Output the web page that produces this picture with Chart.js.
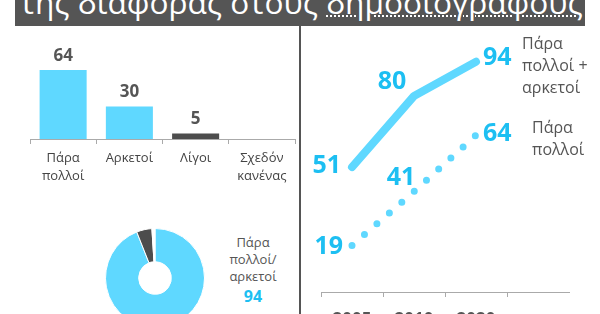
<!DOCTYPE html>
<html>
<head>
<meta charset="utf-8">
<script src="https://cdn.jsdelivr.net/npm/chart.js@4.4.1/dist/chart.umd.min.js"></script>
<style>
  html, body { margin: 0; padding: 0; background: #fff; }
  body { width: 600px; height: 314px; position: relative; overflow: hidden; font-family: 'Open Sans', sans-serif; }
  canvas { position: absolute; }
  #hdr { position: absolute; left: 15px; top: 0; width: 570px; height: 26px; background: #555; overflow: hidden; z-index: 2; }
  #hdr span.t { position: absolute; left: 5px; top: -14px; font-size: 32px; line-height: 1; color: #fff; white-space: nowrap; }
  #hdr u { text-decoration: underline dotted 2px; text-underline-offset: 1px; }
  #divider { position: absolute; left: 299px; top: 26px; width: 2px; height: 300px; background: #555; }
  .note { position: absolute; color: #555; white-space: nowrap; }
</style>
</head>
<body>
<div id="hdr"><span class="t" id="title">της διαφοράς στους <u>δημοσιογράφους</u></span></div>
<div id="divider"></div>

<canvas id="bars" width="298" height="200" style="left:0;top:0"></canvas>
<canvas id="donut" width="100" height="100" style="left:105px;top:228px"></canvas>
<canvas id="lines" width="300" height="310" style="left:300px;top:26px"></canvas>

<div class="note" style="left:213px;top:234px;width:80px;text-align:center;font-size:13px;line-height:17px">Πάρα<br>πολλοί/<br>αρκετοί<br><b style="color:#1dbff2;font-size:16px;line-height:23px">94</b></div>
<div class="note" style="left:522px;top:32px;font-size:16px;line-height:22px">Πάρα<br>πολλοί +<br>αρκετοί</div>
<div class="note" style="left:532px;top:116px;font-size:16px;line-height:22px">Πάρα<br>πολλοί</div>

<script>
const categories = ['Πάρα πολλοί', 'Αρκετοί', 'Λίγοι', 'Σχεδόν κανένας'];
const barValues = [64, 30, 5, 0];

const donutLabels = ['Πάρα πολλοί/αρκετοί', 'Λίγοι', 'Σχεδόν κανένας'];
const donutValues = [94, 5, 1];

const years = ['2005', '2010', '2020', ''];
const veryMuchOrEnough = [51, 80, 94]; // πάρα πολλοί + αρκετοί
const veryMuch = [19, 41, 64];         // πάρα πολλοί

const BLUE = '#5fd8ff';
const LABEL_BLUE = '#1dbff2';
const GREY = '#555';

// squeeze the (cut off) title so it ends where the grey band ends
const title = document.getElementById('title');
const size = 32 * 563 / title.offsetWidth;
title.style.fontSize = size + 'px';
title.style.top = (14.5 - 0.888 * size) + 'px';

Chart.defaults.font.family = "'Open Sans', sans-serif";
Chart.defaults.animation = false;

// numbers above the bars
const barLabels = {
  id: 'barLabels',
  afterDatasetsDraw(chart) {
    const ctx = chart.ctx;
    const meta = chart.getDatasetMeta(0);
    ctx.save();
    ctx.font = 'bold 17px "Open Sans"';
    ctx.fillStyle = GREY;
    ctx.textAlign = 'center';
    ctx.textBaseline = 'middle';
    meta.data.forEach((el, i) => {
      const v = chart.data.datasets[0].data[i];
      if (!v) return;
      ctx.fillText(v, el.x, el.y - 14);
    });
    ctx.restore();
  }
};

new Chart(document.getElementById('bars'), {
  type: 'bar',
  data: {
    labels: categories,
    datasets: [{
      data: barValues,
      backgroundColor: [BLUE, BLUE, '#4d4d4d', '#4d4d4d'],
      categoryPercentage: 1,
      barPercentage: 0.71
    }]
  },
  options: {
    responsive: false,
    layout: { padding: { left: 30, right: 3, top: 31, bottom: 1 } },
    plugins: { legend: { display: false }, tooltip: { enabled: false } },
    scales: {
      y: { display: false, min: 0, max: 100 },
      x: {
        afterFit: s => { s.height = 60; },
        border: { display: true, color: '#aaa' },
        grid: { drawOnChartArea: false, tickLength: 5, color: '#aaa' },
        ticks: {
          color: '#444',
          padding: 5,
          font: { size: 13, lineHeight: 1.4 },
          callback: function (v, i) {
            const l = categories[i];
            return l.includes(' ') ? l.split(' ') : l;
          }
        }
      }
    }
  },
  plugins: [barLabels]
});

new Chart(document.getElementById('donut'), {
  type: 'doughnut',
  data: {
    labels: donutLabels,
    datasets: [{
      data: donutValues,
      backgroundColor: [BLUE, '#4d4d4d', '#fff'],
      borderColor: '#fff',
      borderWidth: 1
    }]
  },
  options: {
    responsive: false,
    cutout: '33%',
    plugins: { legend: { display: false }, tooltip: { enabled: false } }
  }
});

// where each number sits next to its point
const pointLabelPlacement = [
  [{ align: 'right', dx: -11, dy: -1 }, { align: 'center', dx: -22, dy: -14 }, { align: 'left', dx: 7, dy: -4 }],
  [{ align: 'right', dx: -9, dy: 1 }, { align: 'center', dx: -13, dy: -14 }, { align: 'left', dx: 7, dy: -1 }]
];

const pointLabels = {
  id: 'pointLabels',
  afterDatasetsDraw(chart) {
    const ctx = chart.ctx;
    ctx.save();
    ctx.font = 'bold 25px "Open Sans"';
    ctx.fillStyle = LABEL_BLUE;
    ctx.textBaseline = 'middle';
    chart.data.datasets.forEach((ds, d) => {
      chart.getDatasetMeta(d).data.forEach((pt, i) => {
        const p = pointLabelPlacement[d][i];
        ctx.textAlign = p.align;
        ctx.fillText(ds.data[i], pt.x + p.dx, pt.y + p.dy);
      });
    });
    ctx.restore();
  }
};

new Chart(document.getElementById('lines'), {
  type: 'line',
  data: {
    labels: years,
    datasets: [{
      data: veryMuchOrEnough,
      borderColor: BLUE,
      borderWidth: 8,
      borderCapStyle: 'round',
      borderJoinStyle: 'round',
      pointRadius: 0,
      tension: 0,
      clip: false
    }, {
      data: veryMuch,
      borderColor: BLUE,
      borderWidth: 7,
      borderCapStyle: 'round',
      borderDash: [0, 16.5],
      pointRadius: 0,
      tension: 0,
      clip: false
    }]
  },
  options: {
    responsive: false,
    layout: { padding: { left: 21, right: 31, top: 21, bottom: 14 } },
    plugins: { legend: { display: false }, tooltip: { enabled: false } },
    scales: {
      y: { display: false, min: 0, max: 100 },
      x: {
        offset: true,
        afterFit: s => { s.height = 30; },
        border: { display: true, color: '#aaa' },
        grid: {
          offset: true,
          drawOnChartArea: false,
          tickLength: 5,
          color: c => c.type === 'tick' ? '#aaa' : 'rgba(0,0,0,0)'
        },
        ticks: { color: GREY, padding: 13, font: { size: 17, weight: 'bold' } }
      }
    }
  },
  plugins: [pointLabels]
});
</script>
</body>
</html>
